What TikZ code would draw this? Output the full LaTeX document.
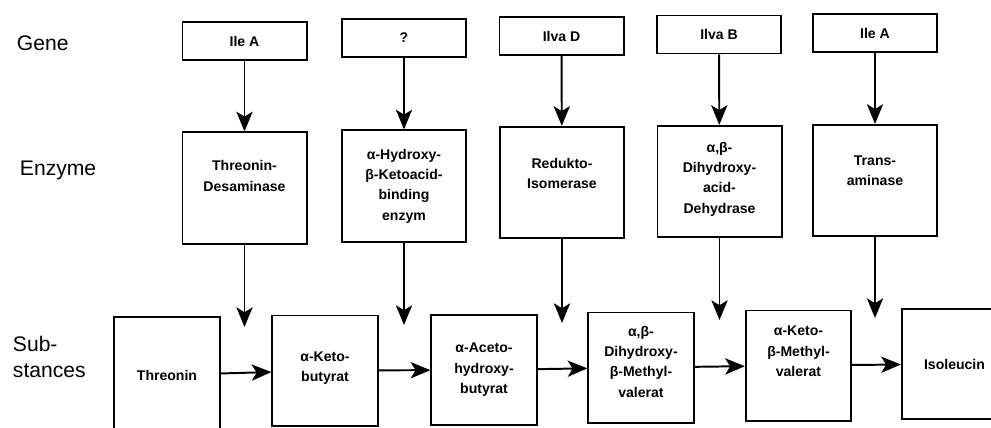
\documentclass[tikz,border=0pt]{standalone}
\usepackage{fontspec}
\setmainfont{Liberation Sans}
\usetikzlibrary{arrows.meta}

\begin{document}
\begin{tikzpicture}[x=0.025cm,y=-0.025cm,font=\bfseries\fontsize{10}{14.5}\selectfont,
 box/.style={draw,line width=1.4pt,align=center,inner sep=2pt},
 genbox/.style={box,minimum width=3.1cm,minimum height=0.95cm},
 enzbox/.style={box,minimum width=3.1cm,minimum height=2.78cm},
 subbox/.style={box,minimum width=2.63cm,minimum height=2.75cm},
 raised/.style={text depth=#1},
 rowlabel/.style={anchor=west,align=left,font=\fontsize{15}{19}\selectfont},
 arr/.style={line width=1.4pt,-{Stealth[length=14pt,width=11.5pt,inset=3.5pt]}}]
 \useasboundingbox (0,0) rectangle (991,427);
 % row labels
 \node[rowlabel] (lgene) at (12,43) {Gene};
 \node[rowlabel] (lenz) at (15,170) {Enzyme};
 \node[rowlabel] (lsub) at (8,357) {Sub-\\stances};
 % genes
 \node[genbox] (g1) at (244.5,41) {Ile A};
 \node[genbox] (g2) at (404,38) {?};
 \node[genbox] (g3) at (561.5,36) {Ilva D};
 \node[genbox] (g4) at (719,34.5) {Ilva B};
 \node[genbox] (g5) at (875,33) {Ile A};
 % enzymes
 \node[enzbox,raised=0.6cm] (e1) at (244.5,188) {Threonin-\\Desaminase};
 \node[enzbox] (e2) at (404,186) {α-Hydroxy-\\β-Ketoacid-\\binding\\enzym};
 \node[enzbox,raised=0.45cm] (e3) at (562,182.5) {Redukto-\\Isomerase};
 \node[enzbox,raised=0.2cm] (e4) at (719.5,181.5) {α,β-\\Dihydroxy-\\acid-\\Dehydrase};
 \node[enzbox,raised=0.5cm] (e5) at (875,180.5) {Trans-\\aminase};
 % substances
 \node[subbox,minimum height=2.9cm] (s1) at (167,375) {Threonin};
 \node[subbox,raised=0.2cm] (s2) at (325,370.5) {α-Keto-\\butyrat};
 \node[subbox] (s3) at (484,370) {α-Aceto-\\hydroxy-\\butyrat};
 \node[subbox,raised=0.3cm] (s4) at (641,367.5) {α,β-\\Dihydroxy-\\β-Methyl-\\valerat};
 \node[subbox,raised=0.7cm] (s5) at (798.5,365.5) {α-Keto-\\β-Methyl-\\valerat};
 \node[subbox] (s6) at (954.5,364) {Isoleucin};
 % free ends of the enzyme arrows
 \coordinate (t1) at (244.5,327);
 \coordinate (t2) at (404,325);
 \coordinate (t3) at (562,323);
 \coordinate (t4) at (719.5,320);
 \coordinate (t5) at (875,318);
 \foreach \i in {1,...,5}{
  \draw[arr] (g\i) -- (e\i);
  \draw[arr] (e\i) -- (t\i);
 }
 \foreach \i/\j in {1/2,2/3,3/4,4/5,5/6}{\draw[arr] (s\i) -- (s\j);}
\end{tikzpicture}
\end{document}
